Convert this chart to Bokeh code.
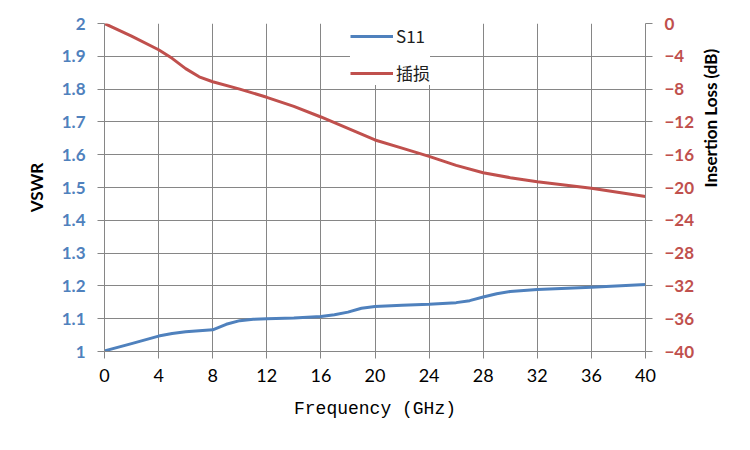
import math
from bokeh.plotting import figure
from bokeh.models import Range1d, LinearAxis, FixedTicker, Legend, LegendItem
from bokeh.embed import file_html
from bokeh.resources import INLINE

# S11 VSWR readings
freq_s11 = [0, 2, 4, 5, 6, 7, 8, 9, 10, 11, 12, 14, 16, 17, 18, 19, 20, 22, 24, 26, 27, 28,
            29, 30, 32, 36, 40]
vswr = [1.002, 1.024, 1.047, 1.055, 1.060, 1.063, 1.066, 1.083, 1.094, 1.098, 1.100, 1.102,
        1.107, 1.112, 1.120, 1.132, 1.137, 1.141, 1.144, 1.149, 1.155, 1.166, 1.176, 1.183,
        1.189, 1.196, 1.204]

# Insertion loss readings (dB)
freq_il = [0, 2, 4, 5, 6, 7, 8, 10, 12, 14, 16, 18, 20, 22, 24, 26, 28, 30, 32, 36, 40]
il = [0.0, -1.55, -3.2, -4.25, -5.5, -6.5, -7.1, -8.0, -9.0, -10.1, -11.4, -12.8, -14.2,
      -15.2, -16.2, -17.3, -18.2, -18.8, -19.3, -20.1, -21.1]

x_ticks = [0, 4, 8, 12, 16, 20, 24, 28, 32, 36, 40]
left_ticks = [1.0, 1.1, 1.2, 1.3, 1.4, 1.5, 1.6, 1.7, 1.8, 1.9, 2.0]
right_ticks = [0, -4, -8, -12, -16, -20, -24, -28, -32, -36, -40]

BLUE = "#4F81BD"
RED = "#C0504D"
GRID = "#868686"

p = figure(width=742, height=442, output_backend="svg", toolbar_location=None,
           x_range=Range1d(0, 40), y_range=Range1d(1, 2),
           min_border_left=104, min_border_right=97, min_border_top=23, min_border_bottom=91)
p.outline_line_color = None
p.background_fill_color = "white"
p.border_fill_color = "white"

p.extra_y_ranges = {"il": Range1d(-40, 0)}

# grids
p.xgrid.ticker = FixedTicker(ticks=x_ticks)
p.ygrid.ticker = FixedTicker(ticks=left_ticks)
for g in (p.xgrid, p.ygrid):
    g.grid_line_color = GRID
    g.grid_line_width = 1

# x axis
xa = p.xaxis[0]
xa.ticker = FixedTicker(ticks=x_ticks)
xa.axis_label = "Frequency (GHz)"
xa.axis_label_text_font = "Liberation Mono"
xa.axis_label_text_font_size = "18px"
xa.axis_label_text_font_style = "normal"
xa.axis_label_text_color = "black"
xa.axis_label_standoff = 14
xa.major_label_text_font = "Lato"
xa.major_label_text_font_size = "18px"
xa.major_label_text_color = "black"
xa.major_label_standoff = 10

# left axis
ya = p.yaxis[0]
ya.ticker = FixedTicker(ticks=left_ticks)
ya.major_label_overrides = {1.0: "1", 2.0: "2"}
ya.axis_label = "VSWR"
ya.axis_label_text_font = "Lato"
ya.axis_label_text_font_size = "17px"
ya.axis_label_text_font_style = "bold"
ya.axis_label_text_color = "black"
ya.axis_label_standoff = 12
ya.major_label_text_font = "Lato"
ya.major_label_text_font_size = "17px"
ya.major_label_text_font_style = "bold"
ya.major_label_text_color = BLUE
ya.major_label_standoff = 12

# right axis
ra = LinearAxis(y_range_name="il", ticker=FixedTicker(ticks=right_ticks))
ra.axis_label = "Insertion Loss (dB)"
ra.axis_label_orientation = math.pi / 2
ra.axis_label_text_font = "Lato"
ra.axis_label_text_font_size = "17px"
ra.axis_label_text_font_style = "bold"
ra.axis_label_text_color = "black"
ra.axis_label_standoff = 13
ra.major_label_text_font = "Lato"
ra.major_label_text_font_size = "17px"
ra.major_label_text_font_style = "bold"
ra.major_label_text_color = RED
ra.major_label_standoff = 12
p.add_layout(ra, "right")

for ax in (xa, ya, ra):
    ax.axis_line_color = GRID
    ax.major_tick_line_color = GRID
    ax.major_tick_out = 7
    ax.major_tick_in = 0
    ax.minor_tick_line_color = None

r1 = p.line(freq_s11, vswr, line_color=BLUE, line_width=3, line_join="round")
r2 = p.line(freq_il, il, line_color=RED, line_width=3, line_join="round", y_range_name="il")

legend = Legend(items=[LegendItem(label="S11", renderers=[r1]),
                       LegendItem(label="插损", renderers=[r2])],
                location=(246, 266))
legend.background_fill_color = "white"
legend.background_fill_alpha = 1.0
legend.border_line_color = None
legend.label_text_font = "Noto Sans CJK SC"
legend.label_text_font_size = "17px"
legend.label_text_color = "#202020"
legend.glyph_width = 43
legend.glyph_height = 20
legend.label_height = 20
legend.label_standoff = 3
legend.spacing = 12
legend.padding = 16
legend.margin = 0
p.add_layout(legend, "center")

open("out.html", "w").write(file_html(p, INLINE))
